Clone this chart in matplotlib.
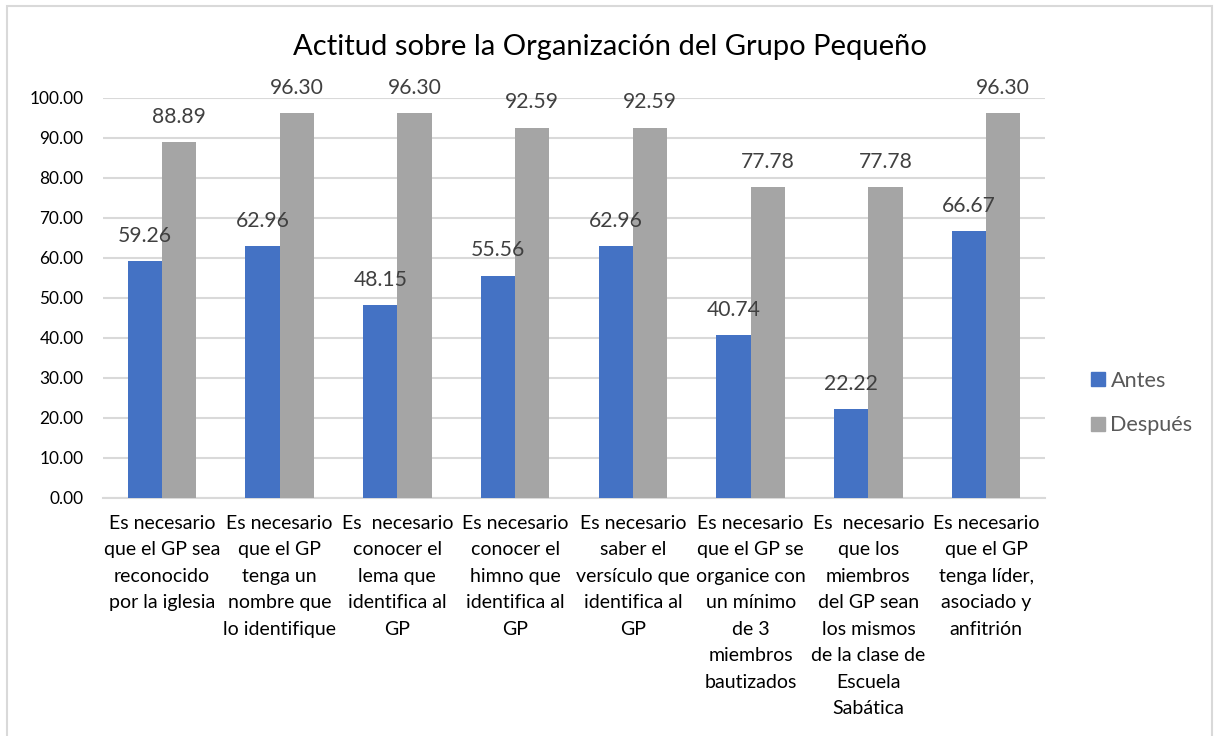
import matplotlib
matplotlib.use("Agg")
import matplotlib.pyplot as plt
import numpy as np
from matplotlib.patches import Rectangle
from matplotlib.lines import Line2D

plt.rcParams['font.family'] = ['Lato', 'DejaVu Sans']

title = "Actitud sobre la Organización del Grupo Pequeño"
categories = [
    "Es necesario\nque el GP sea\nreconocido\npor la iglesia",
    "Es necesario\nque el GP\ntenga un\nnombre que\nlo identifique",
    "Es  necesario\nconocer el\nlema que\nidentifica al\nGP",
    "Es necesario\nconocer el\nhimno que\nidentifica al\nGP",
    "Es necesario\nsaber el\nversículo que\nidentifica al\nGP",
    "Es necesario\nque el GP se\norganice con\nun mínimo\nde 3\nmiembros\nbautizados",
    "Es  necesario\nque los\nmiembros\ndel GP sean\nlos mismos\nde la clase de\nEscuela\nSabática",
    "Es necesario\nque el GP\ntenga líder,\nasociado y\nanfitrión",
]
series_names = ["Antes", "Después"]
antes = [59.26, 62.96, 48.15, 55.56, 62.96, 40.74, 22.22, 66.67]
despues = [88.89, 96.30, 96.30, 92.59, 92.59, 77.78, 77.78, 96.30]
yticks = [0, 10, 20, 30, 40, 50, 60, 70, 80, 90, 100]

W, H = 1216, 736
fig = plt.figure(figsize=(W / 100, H / 100), dpi=100)
ax = fig.add_axes([103 / W, (H - 498) / H, (1045 - 103) / W, 400 / H])

c_antes = "#4472C4"
c_desp = "#A5A5A5"
grid_c = "#D9D9D9"

x = np.arange(len(categories))
bw = 0.29
b1 = ax.bar(x - bw / 2, antes, bw, color=c_antes, zorder=3)
b2 = ax.bar(x + bw / 2, despues, bw, color=c_desp, zorder=3)

for bars, vals in ((b1, antes), (b2, despues)):
    for r, v in zip(bars, vals):
        ax.annotate(f"{v:.2f}", (r.get_x() + r.get_width() / 2, v),
                    xytext=(0, 11), textcoords="offset points",
                    ha="center", va="bottom", fontsize=15.2, color="#404040", zorder=4)

ax.set_xlim(-0.5, len(categories) - 0.5)
ax.set_ylim(0, 100)
ax.set_yticks(yticks)
ax.set_yticklabels([f"{v:.2f}" for v in yticks], fontsize=12.4, color="#000000")
ax.set_xticks(x)
ax.set_xticklabels(categories, fontsize=14, color="#000000", linespacing=1.68, va="top")
ax.tick_params(axis="both", length=0)
ax.tick_params(axis="x", pad=12)
ax.tick_params(axis="y", pad=14)
ax.grid(axis="y", color=grid_c, linewidth=1.5, zorder=0)
for s in ["top", "right", "left"]:
    ax.spines[s].set_visible(False)
ax.spines["bottom"].set_color(grid_c)
ax.spines["bottom"].set_linewidth(1.5)

fig.text(610 / W, (H - 47) / H, title, ha="center", va="center", fontsize=21, color="#000000")

handles = [Line2D([], [], marker="s", linestyle="none", markersize=10.5, color=c) for c in (c_antes, c_desp)]
fig.legend(handles, series_names, loc="center left", bbox_to_anchor=(1078 / W, (H - 403) / H),
           frameon=False, fontsize=15.6, labelcolor="#595959", labelspacing=1.15,
           handletextpad=0.1, handlelength=1.0, borderaxespad=0)

fig.patches.append(Rectangle((7 / W, -0.01), 1205 / W, (H - 6) / H + 0.01, transform=fig.transFigure,
                             fill=False, edgecolor=grid_c, linewidth=1.5))

fig.savefig("out.png", dpi=100)
